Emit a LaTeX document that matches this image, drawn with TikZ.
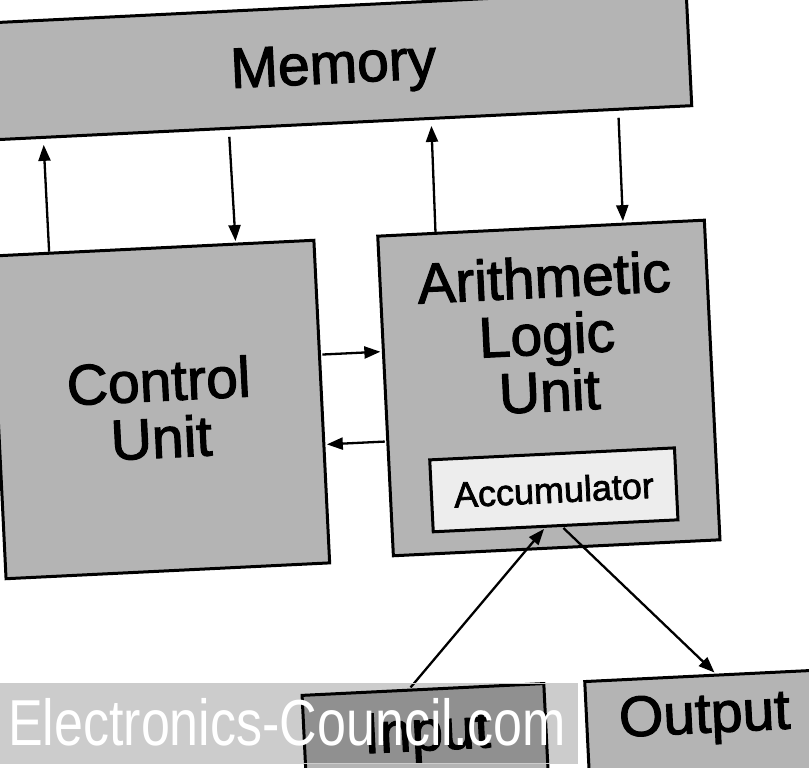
\documentclass[tikz,border=0pt]{standalone}
\usepackage{fontspec}
\setmainfont{Liberation Sans}
\newfontfamily\heavy[FakeBold=2]{Liberation Sans}
\usetikzlibrary{arrows.meta,calc}
\definecolor{boxgray}{HTML}{B4B4B4}
\definecolor{accgray}{HTML}{EDEDED}
\begin{document}
\begin{tikzpicture}[x=1pt,y=-1pt,
  box/.style={draw=black, line width=3pt, fill=boxgray, inner sep=0pt},
  lbl/.style={font=\heavy\fontsize{57}{57}\selectfont, align=center, inner sep=0pt, text=black},
  arr/.style={line width=2.3pt, -{Triangle[length=16pt,width=12pt]}}]
\useasboundingbox (0,0) rectangle (809,768);
\fill[white] (0,0) rectangle (809,768);
\clip (0,0) rectangle (809,768);
\begin{scope}[rotate around={2.8:(405,384)}, transform shape]
  % boxes
  \node[box, minimum width=712pt, minimum height=117pt] (mem) at (349,61.5) {};
  \node[lbl, anchor=base] (memt) at (349,80) {Memory};
  \node[box, minimum width=324pt, minimum height=323pt] (cu) at (159,397.5) {};
  \node[lbl] (cut) at (159,397) {Control\\Unit};
  \node[box, minimum width=327pt, minimum height=320pt] (alu) at (548.5,395) {};
  \node[lbl] (alut) at (549,341) {Arithmetic\\Logic\\Unit};
  \node[box, fill=accgray, minimum width=245pt, minimum height=72pt,
        font=\heavy\fontsize{36}{36}\selectfont] (acc) at (548.5,497) {Accumulator};
  \node[box, minimum width=242pt, minimum height=110pt] (inp) at (408,745) {};
  \node[lbl, anchor=base] (inpt) at (410,751) {Input};
  \node[box, minimum width=236pt, minimum height=110pt] (out) at (688,745) {};
  \node[lbl, anchor=base] (outt) at (688,747) {Output};
  % memory <-> control unit
  \draw[arr, shorten >=6pt] ($(cu.north west)!0.185!(cu.north east)$) -- ($(mem.south west)!0.0899!(mem.south east)$);
  \draw[arr, shorten <=7pt, shorten >=1.5pt] ($(mem.south west)!0.3497!(mem.south east)$) -- ($(cu.north west)!0.756!(cu.north east)$);
  % memory <-> ALU
  \draw[arr, shorten >=6pt] ($(alu.north west)!0.180!(alu.north east)$) -- ($(mem.south west)!0.633!(mem.south east)$);
  \draw[arr, shorten <=7pt, shorten >=1.5pt] ($(mem.south west)!0.895!(mem.south east)$) -- ($(alu.north west)!0.749!(alu.north east)$);
  % control unit <-> ALU
  \draw[arr, shorten <=1.5pt, shorten >=1.5pt] ($(cu.north east)!0.356!(cu.south east)$) -- ($(alu.north west)!0.3625!(alu.south west)$);
  \draw[arr, shorten <=1.5pt, shorten >=1.5pt] ($(alu.north west)!0.641!(alu.south west)$) -- ($(cu.north east)!0.632!(cu.south east)$);
  % input / output
  \draw[arr, shorten <=1.5pt, shorten >=1.5pt] ($(inp.north west)!0.446!(inp.north east)$) -- ($(acc.south west)!0.457!(acc.south east)$);
  \draw[arr, shorten <=1.5pt, shorten >=1.5pt] ($(acc.south west)!0.527!(acc.south east)$) -- ($(out.north west)!0.555!(out.north east)$);
\end{scope}
% watermark band
\fill[black, opacity=0.2] (0,683) rectangle (577,763);
\draw[white!80!black, line width=1pt] (0,683) rectangle (577,763);
\node[inner sep=0pt, text=white, font=\fontsize{65}{65}\selectfont, xscale=0.8] (wm) at (287,722)
  {Electronics-Council.com};
\end{tikzpicture}
\end{document}
